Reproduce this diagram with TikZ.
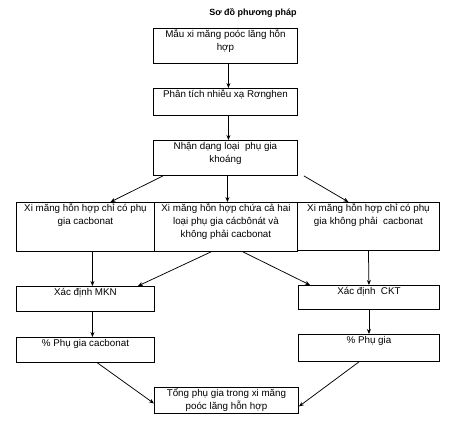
\documentclass[tikz,border=0pt]{standalone}
\usepackage{fontspec}
\setmainfont{Liberation Sans}
\usetikzlibrary{arrows.meta,calc}
\newcommand\bxt[3]{\parbox[c][#2][t]{#1}{\centering\fontsize{9.8pt}{13pt}\selectfont\rule{0pt}{9.5pt}#3\par}}
\begin{document}
\begin{tikzpicture}[x=1pt,y=-1pt,
  box/.style={draw, line width=0.9pt, inner sep=0pt, anchor=north west},
  arr/.style={-{Stealth[length=5pt,width=4pt]}, line width=0.75pt}]
\useasboundingbox (0,0) rectangle (461,425);
\node[font=\bfseries\fontsize{9pt}{11pt}\selectfont] (title) at (253,13) {Sơ đồ phương pháp};
\node[box] (b1) at (153,28) {\bxt{144pt}{35pt}{Mẫu xi măng poóc lăng hỗn\\ hợp}};
\node[box] (b2) at (153,88) {\bxt{144pt}{27pt}{Phân tích nhiễu xạ Rơnghen}};
\node[box] (b3) at (153,140) {\bxt{144pt}{35pt}{Nhận dạng loại\ \ phụ gia\\ khoáng}};
\node[box] (l1) at (16,202) {\bxt{138pt}{49pt}{Xi măng hỗn hợp chỉ có phụ\\ gia cacbonat}};
\node[box] (m1) at (154,202) {\bxt{143pt}{49pt}{Xi măng hỗn hợp chứa cả hai\\ loại phụ gia cácbônát và\\ không phải cacbonat}};
\node[box] (r1) at (297,202) {\bxt{142pt}{48pt}{Xi măng hỗn hợp chỉ có phụ\\ gia không phải\ \ cacbonat}};
\node[box] (mkn) at (16,286) {\bxt{138pt}{25pt}{Xác định MKN}};
\node[box] (ckt) at (298,285) {\bxt{141pt}{24pt}{Xác định\ \ CKT}};
\node[box] (pc) at (16,337) {\bxt{138pt}{25pt}{\% Phụ gia cacbonat}};
\node[box] (pg) at (298,334) {\bxt{141pt}{27pt}{\% Phụ gia}};
\node[box] (fin) at (154,387) {\bxt{144pt}{26pt}{Tổng phụ gia trong xi măng\\ poóc lăng hỗn hợp}};
\draw[arr] ($(b1.south)+(3,0)$) -- ($(b2.north)+(3,0)$);
\draw[arr] ($(b2.south)+(3,0)$) -- ($(b3.north)+(3,0)$);
\draw[arr] ($(b3.south)+(2,0)$) -- ($(m1.north)+(1.5,0)$);
\draw[arr] ($(b3.south west)+(10,0)$) -- ($(l1.north)+(25,0)$);
\draw[arr] ($(b3.south east)+(6,0)$) -- ($(r1.north)+(-20,0)$);
\draw[arr] ($(l1.south)+(7,0)$) -- ($(mkn.north)+(7,0)$);
\draw[arr] ($(m1.south)+(-15,0)$) -- ($(mkn.north east)+(-17,0)$);
\draw[arr] ($(m1.south)+(17,0)$) -- ($(ckt.north west)+(12,0)$);
\draw[arr] (r1.south) -- (ckt.north);
\draw[arr] ($(mkn.south)+(7,0)$) -- ($(pc.north)+(7,0)$);
\draw[arr] (ckt.south) -- (pg.north);
\draw[arr] ($(pc.south)+(12,0)$) -- ($(fin.west)+(0,3)$);
\draw[arr] ($(pg.south)+(-10,0)$) -- ($(fin.east)+(0,6)$);
\end{tikzpicture}
\end{document}
